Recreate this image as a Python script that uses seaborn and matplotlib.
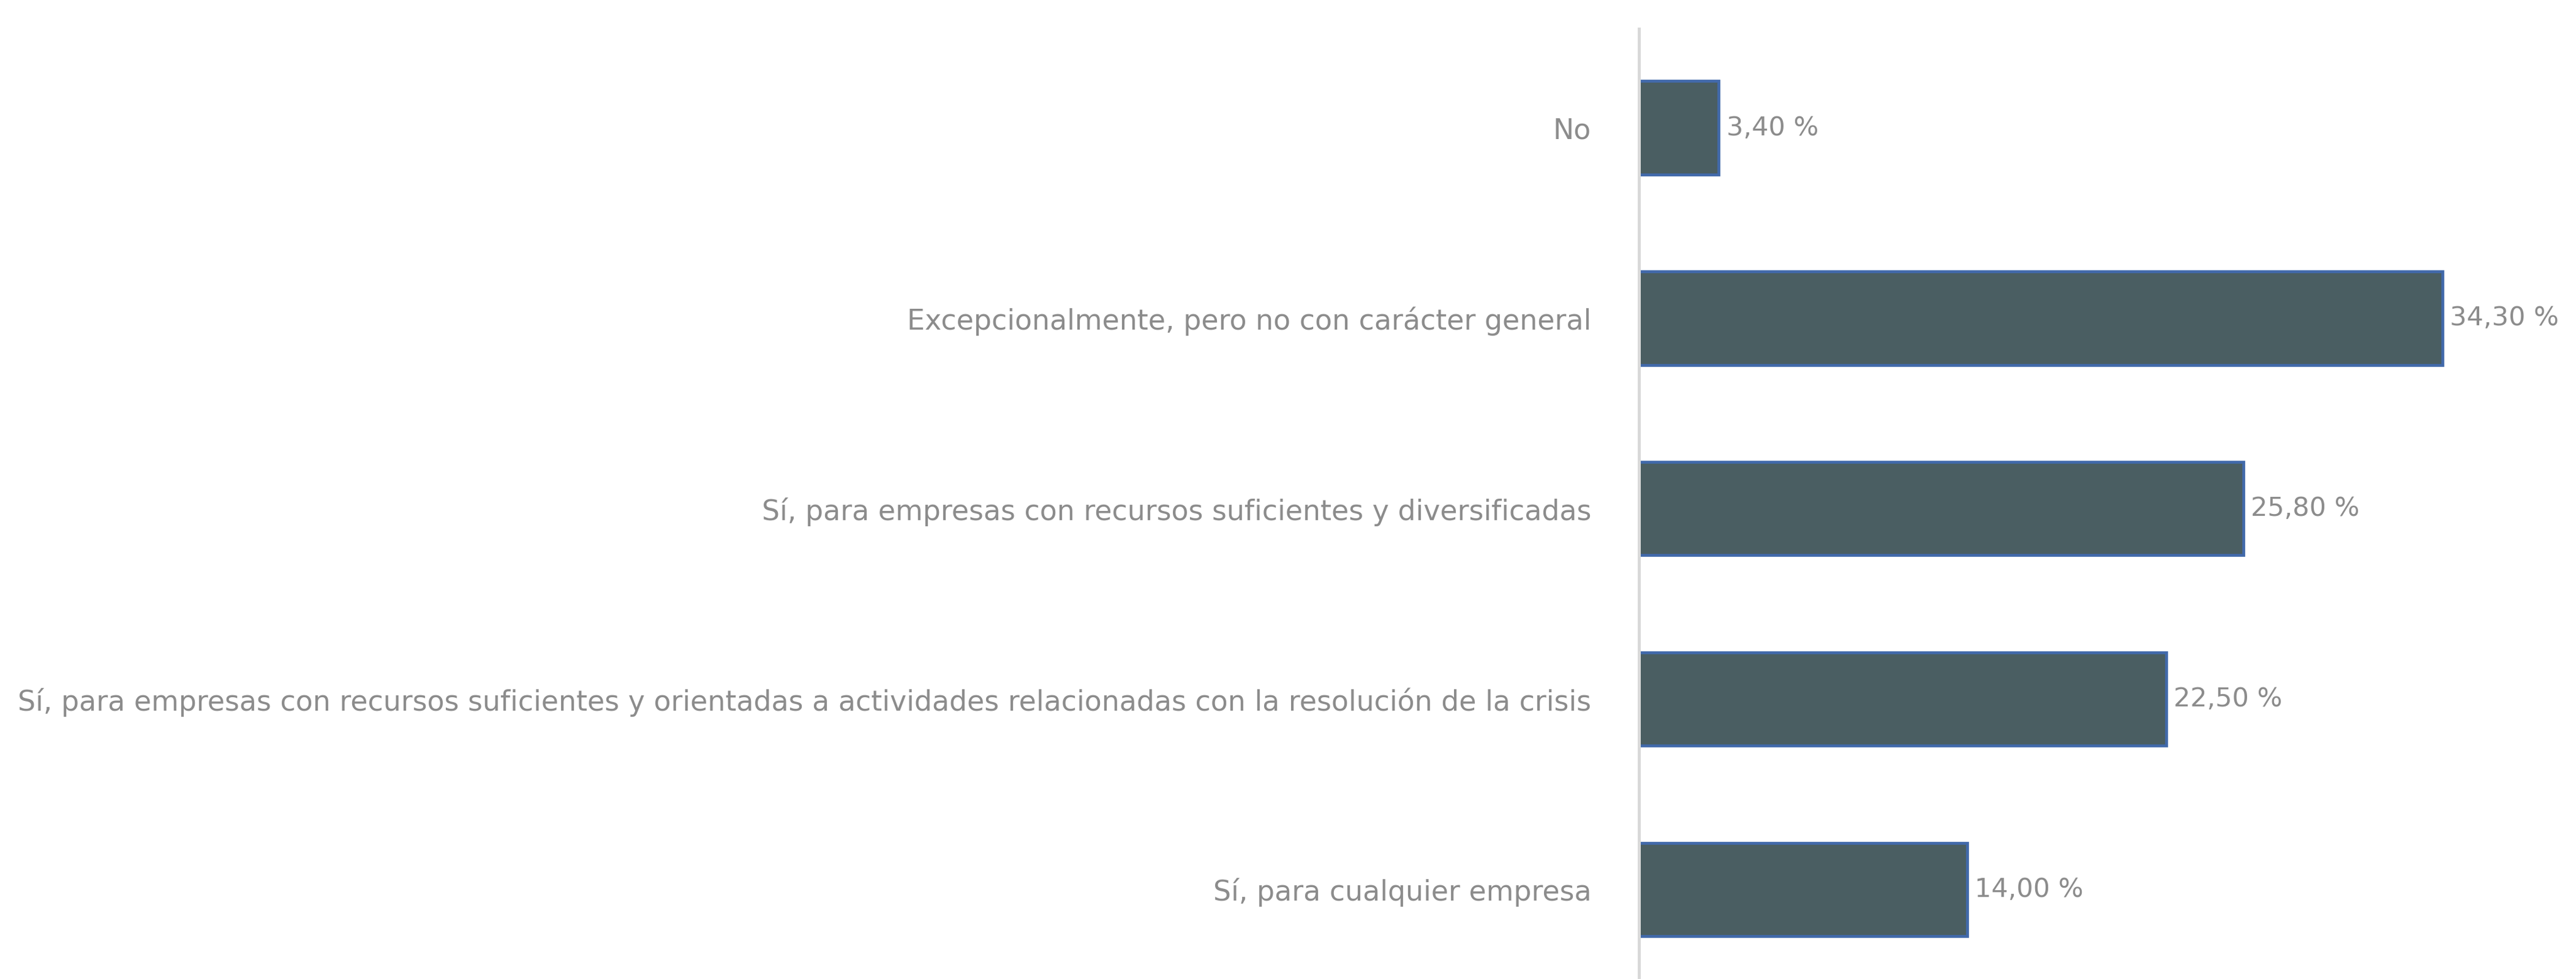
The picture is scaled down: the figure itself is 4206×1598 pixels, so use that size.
import matplotlib
matplotlib.use("Agg")
import matplotlib.pyplot as plt
import seaborn as sns
import pandas as pd

categories = [
    "No",
    "Excepcionalmente, pero no con carácter general",
    "Sí, para empresas con recursos suficientes y diversificadas",
    "Sí, para empresas con recursos suficientes y orientadas a actividades relacionadas con la resolución de la crisis",
    "Sí, para cualquier empresa",
]
values = [3.40, 34.30, 25.80, 22.50, 14.00]

df = pd.DataFrame({"categoria": categories, "valor": values})

sns.set_theme(style="white")
plt.rcParams["font.family"] = ["DejaVu Sans"]

W, H, DPI = 4206, 1598, 100
fig = plt.figure(figsize=(W / DPI, H / DPI), dpi=DPI)
ax_left = 2676 / W
ax_top = (H - 47) / H
ax = fig.add_axes([ax_left, 0.0, 1.0 - ax_left, ax_top])

sns.barplot(data=df, y="categoria", x="valor", orient="h", ax=ax,
            color="#4a5e62", saturation=1, width=0.49,
            edgecolor="#4169aa", linewidth=3.4)

ax.set_xlim(0, 40.0)
ax.set_ylim(4.47, -0.52)
ax.set_xlabel("")
ax.set_ylabel("")
ax.set_xticks([])
for s in ["top", "right", "bottom"]:
    ax.spines[s].set_visible(False)
ax.spines["left"].set_color("#d9d9d9")
ax.spines["left"].set_linewidth(3.6)
ax.tick_params(axis="y", length=0, pad=56, labelsize=33, labelcolor="#8c8c8c")

labels = [f"{v:.2f}".replace(".", ",") + " %" for v in values]
ax.bar_label(ax.containers[0], labels=labels, padding=9, fontsize=31,
             color="#8c8c8c", clip_on=False)

fig.savefig("out.png", dpi=DPI)
